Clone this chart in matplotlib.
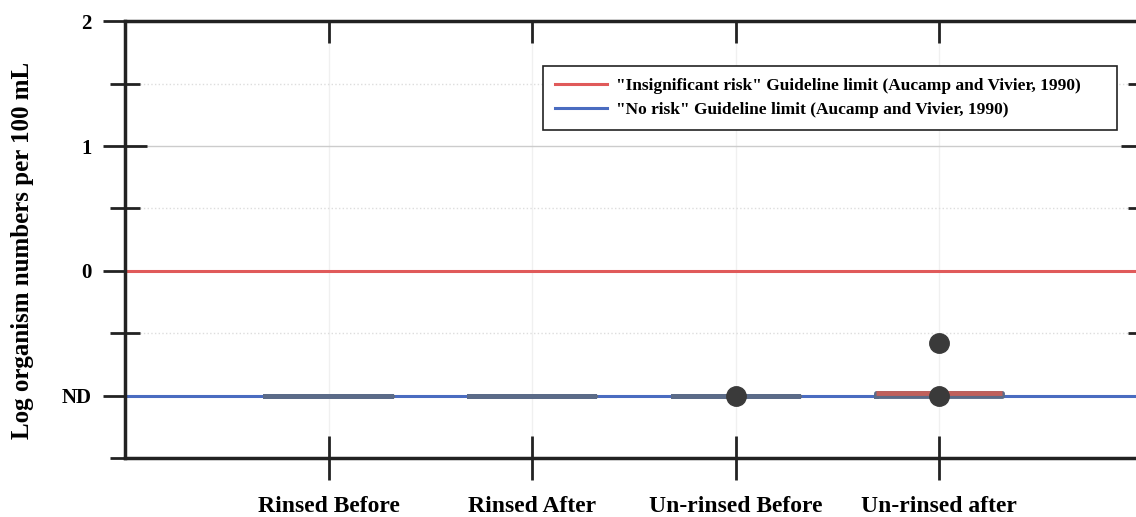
import matplotlib.pyplot as plt
from matplotlib.ticker import FixedLocator

# groups and box stats (log organism numbers, ND = -1)
groups = ['Rinsed Before', 'Rinsed After', 'Un-rinsed Before', 'Un-rinsed after']
q1 = [-1.0, -1.0, -1.0, -1.0]
q3 = [-1.0, -1.0, -1.0, -0.98]
medians = [-1.0, -1.0, -1.0, -0.98]
whis_lo = [-1.0, -1.0, -1.0, -1.0]
whis_hi = [-1.0, -1.0, -1.0, -0.98]
fliers = [[], [], [-1.0], [-1.0, -0.58]]

insignificant_risk = 0.0
no_risk = -1.0

y_ticks = [2, 1, 0, -1]
y_ticklabels = ['2', '1', '0', 'ND']
y_minor = [1.5, 0.5, -0.5, -1.5]

plt.rcParams['font.family'] = ['Liberation Serif', 'DejaVu Serif']
plt.rcParams['font.weight'] = 'bold'

fig = plt.figure(figsize=(11.36, 5.17), dpi=100)
ax = fig.add_axes([0.110, 0.114, 0.896, 0.845])

pos = list(range(1, len(groups) + 1))
stats = []
for i in range(len(groups)):
    stats.append({'q1': q1[i], 'q3': q3[i], 'med': medians[i],
                  'whislo': whis_lo[i], 'whishi': whis_hi[i],
                  'fliers': fliers[i], 'label': groups[i]})

ax.axhline(insignificant_risk, color='#e05a5a', lw=2.2, zorder=1,
           label='"Insignificant risk" Guideline limit (Aucamp and Vivier, 1990)')
ax.axhline(no_risk, color='#4a6cc0', lw=2.2, zorder=1,
           label='"No risk" Guideline limit (Aucamp and Vivier, 1990)')

bp = ax.bxp(stats, positions=pos, widths=0.62, showcaps=False, patch_artist=False,
            boxprops=dict(color='#5b6b88', lw=3.5),
            whiskerprops=dict(color='#5b6b88', lw=3.5),
            medianprops=dict(color='#5b6b88', lw=3.5),
            flierprops=dict(marker='o', markerfacecolor='#3a3a3a', markeredgecolor='#3a3a3a',
                            markersize=14),
            zorder=2)
bp['medians'][3].set_color('#c0605c')
for f in bp['fliers']:
    f.set_zorder(3)

ax.set_xlim(0, 5)
ax.set_ylim(-1.5, 2)
ax.set_xticks(pos)
ax.set_xticklabels(groups, fontsize=17, fontweight='bold')
ax.set_yticks(y_ticks)
ax.set_yticklabels(y_ticklabels, fontsize=15, fontweight='bold')
ax.yaxis.set_minor_locator(FixedLocator(y_minor))

ax.tick_params(axis='x', which='major', direction='inout', length=32, width=2,
               top=False, pad=11, color='#222222')
ax.tick_params(axis='y', which='major', direction='inout', length=32, width=2,
               right=True, pad=8, color='#222222')
ax.tick_params(axis='y', which='minor', direction='inout', length=22, width=2,
               right=True, color='#222222')

for s in ax.spines.values():
    s.set_linewidth(2.5)
    s.set_color('#222222')

# top ticks point inward only
ax2 = ax.twiny()
ax2.set_xlim(ax.get_xlim())
ax2.set_xticks(pos)
ax2.set_xticklabels([])
ax2.tick_params(axis='x', direction='in', length=16, width=2, color='#222222')
for s in ax2.spines.values():
    s.set_visible(False)

ax.grid(True, axis='x', which='major', color='#f0f0f0', lw=1, zorder=0)
ax.grid(True, axis='y', which='major', color='#cccccc', lw=1, zorder=0)
ax.grid(True, axis='y', which='minor', color='#dddddd', lw=1, ls=':', zorder=0)
ax.set_axisbelow(True)

ax.set_ylabel('Log organism numbers per 100 mL', fontsize=18, fontweight='bold')
ax.yaxis.set_label_coords(-0.089, 0.475)

leg = ax.legend(loc='upper left', bbox_to_anchor=(0.4106, 0.746, 0.5636, 0.151),
                mode='expand', borderaxespad=0,
                fancybox=False, framealpha=1, edgecolor='#222222',
                handlelength=3.0, handletextpad=0.5, borderpad=0.7, labelspacing=0.4,
                prop={'weight': 'bold', 'size': 12.5})
leg.get_frame().set_linewidth(1.2)

fig.savefig('out.png', dpi=100)
